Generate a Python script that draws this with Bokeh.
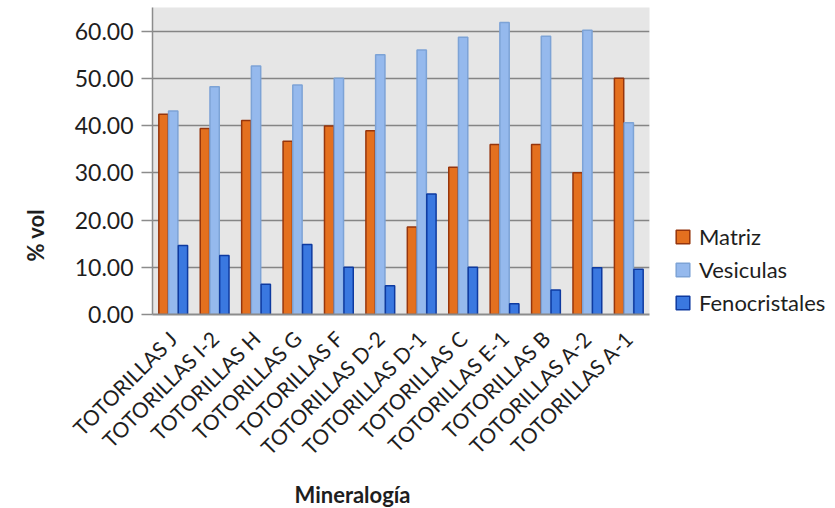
from math import pi

from bokeh.embed import file_html
from bokeh.models import (ColumnDataSource, FactorRange, Range1d, Legend, LegendItem,
                          NumeralTickFormatter, FixedTicker, Title)
from bokeh.plotting import figure
from bokeh.resources import INLINE
from bokeh.transform import dodge

# Samples along the x axis
categories = [
    "TOTORILLAS J", "TOTORILLAS I-2", "TOTORILLAS H", "TOTORILLAS G",
    "TOTORILLAS F", "TOTORILLAS D-2", "TOTORILLAS D-1", "TOTORILLAS C",
    "TOTORILLAS E-1", "TOTORILLAS B", "TOTORILLAS A-2", "TOTORILLAS A-1",
]

# % vol per component
matriz = [42.4, 39.4, 41.1, 36.7, 39.9, 38.9, 18.5, 31.2, 36.0, 36.0, 30.0, 50.0]
vesiculas = [43.1, 48.2, 52.6, 48.6, 50.0, 55.0, 56.0, 58.7, 61.8, 58.9, 60.2, 40.6]
fenocristales = [14.6, 12.5, 6.4, 14.8, 10.0, 6.1, 25.5, 10.0, 2.3, 5.2, 9.9, 9.6]

y_ticks = [0, 10, 20, 30, 40, 50, 60]

source = ColumnDataSource(dict(
    cat=categories, matriz=matriz, vesiculas=vesiculas, fenocristales=fenocristales,
))

FONT = "Lato"
TEXT = "#1e1e1e"

p = figure(
    frame_width=497, frame_height=307,
    x_range=FactorRange(*categories, range_padding=0),
    y_range=Range1d(0, 65),
    output_backend="svg", toolbar_location=None,
    min_border_left=150, min_border_right=188,
    min_border_top=7, min_border_bottom=194,
)
p.outline_line_color = None
p.background_fill_color = "#e6e6e6"
p.border_fill_color = "white"

bw = 0.225
r1 = p.vbar(x=dodge("cat", -0.235, range=p.x_range), top="matriz", width=bw, source=source,
            fill_color="#e4701f", line_color="#96350c", line_width=1.5)
r2 = p.vbar(x=dodge("cat", 0.0, range=p.x_range), top="vesiculas", width=bw, source=source,
            fill_color="#95b9ed", line_color="#7da3d6", line_width=1.5)
r3 = p.vbar(x=dodge("cat", 0.235, range=p.x_range), top="fenocristales", width=bw, source=source,
            fill_color="#3a78e0", line_color="#0e3aa0", line_width=1.5)

# Grid
p.xgrid.grid_line_color = None
p.ygrid.grid_line_color = "#858585"
p.ygrid.grid_line_width = 1.5
p.ygrid.ticker = FixedTicker(ticks=y_ticks)

# Y axis
p.yaxis.ticker = FixedTicker(ticks=y_ticks)
p.yaxis.formatter = NumeralTickFormatter(format="0.00")
p.yaxis.axis_line_color = "#8c8c8c"
p.yaxis.axis_line_width = 1.5
p.yaxis.major_tick_line_color = "#8c8c8c"
p.yaxis.major_tick_line_width = 1.5
p.yaxis.major_tick_out = 11
p.yaxis.major_tick_in = 0
p.yaxis.minor_tick_line_color = None
p.yaxis.major_label_text_font = FONT
p.yaxis.major_label_text_font_size = "23px"
p.yaxis.major_label_text_color = TEXT
p.yaxis.major_label_standoff = 8

# X axis
p.xaxis.axis_line_color = "#8c8c8c"
p.xaxis.axis_line_width = 2
p.xaxis.major_tick_line_color = None
p.xaxis.minor_tick_line_color = None
p.xaxis.major_label_orientation = pi / 4
p.xaxis.major_label_text_font = FONT
p.xaxis.major_label_text_font_size = "21px"
p.xaxis.major_label_text_color = TEXT
p.xaxis.major_label_standoff = 14

# Axis titles, set as panel titles so they can sit off-centre
y_title = Title(text="% vol", align="left", vertical_align="top", offset=53, standoff=42,
                text_font=FONT, text_font_size="22px", text_font_style="bold",
                text_color=TEXT)
p.add_layout(y_title, "left")
x_title = Title(text="Mineralogía", align="left", offset=142, standoff=15,
                text_font=FONT, text_font_size="22px", text_font_style="bold",
                text_color=TEXT)
p.add_layout(x_title, "below")

legend = Legend(
    items=[
        LegendItem(label="Matriz", renderers=[r1]),
        LegendItem(label="Vesiculas", renderers=[r2]),
        LegendItem(label="Fenocristales", renderers=[r3]),
    ],
    location=(25, -2),
    background_fill_alpha=0, border_line_color=None,
    label_text_font=FONT, label_text_font_size="22px", label_text_color=TEXT,
    glyph_width=17, glyph_height=17, label_height=24, spacing=6, label_standoff=8,
    padding=0, margin=0,
)
p.add_layout(legend, "right")

open("out.html", "w").write(file_html(p, INLINE))
